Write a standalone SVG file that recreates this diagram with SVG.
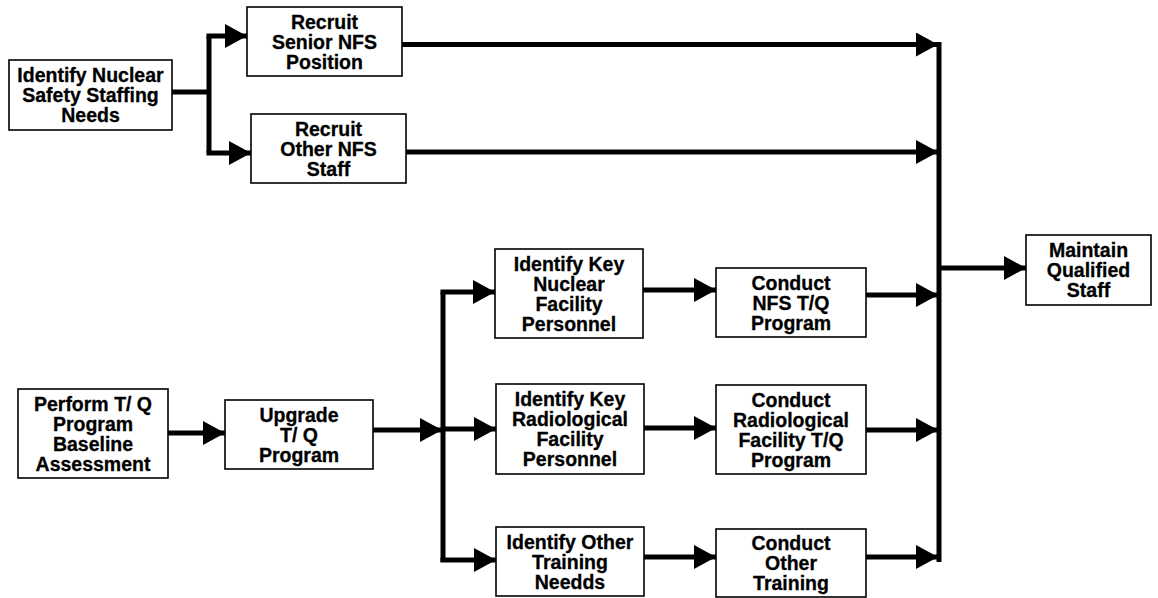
<svg xmlns="http://www.w3.org/2000/svg" width="1158" height="598" viewBox="0 0 1158 598">
<defs>
<marker id="ah" markerUnits="userSpaceOnUse" markerWidth="23" markerHeight="24" refX="22" refY="12" orient="auto" viewBox="0 0 23 24">
<path d="M0,0 L22,12 L0,24 z" fill="#000"/>
</marker>
<style>
.box{fill:#fff;stroke:#000;stroke-width:1.6}
.t{font-family:"Liberation Sans",Arial,Helvetica,sans-serif;font-weight:bold;font-size:19.5px;fill:#000;stroke:#000;stroke-width:0.3;text-anchor:middle}
.c{fill:none;stroke:#000;stroke-width:5;stroke-linejoin:miter;stroke-linecap:butt}
.a{marker-end:url(#ah)}
</style>
</defs>
<rect width="1158" height="598" fill="#fff"/>
<g id="connectors">
<path class="c" d="M172,92 H209"/>
<path class="c" d="M209,36 V153"/>
<path class="c a" d="M206.5,36 H247"/>
<path class="c a" d="M206.5,153 H251"/>
<path class="c" d="M939,42 V562"/>
<path class="c a" d="M402,44.5 H938"/>
<path class="c a" d="M406,152 H938"/>
<path class="c a" d="M939,268 H1026"/>
<path class="c a" d="M168,433 H225"/>
<path class="c a" d="M373,430 H442"/>
<path class="c" d="M443,292 V562"/>
<path class="c a" d="M440.5,292 H495"/>
<path class="c a" d="M443,429 H496"/>
<path class="c a" d="M440.5,560 H496"/>
<path class="c a" d="M643,290 H716"/>
<path class="c a" d="M644,428 H716"/>
<path class="c a" d="M644,557 H716"/>
<path class="c a" d="M866,295 H938"/>
<path class="c a" d="M866,430 H938"/>
<path class="c a" d="M866,557 H938"/>
</g>
<g id="n1"><rect class="box" x="9" y="60" width="163" height="70"/>
<text class="t" x="90.5" y="82">Identify Nuclear</text><text class="t" x="90.5" y="102">Safety Staffing</text><text class="t" x="90.5" y="122">Needs</text></g>
<g id="n2"><rect class="box" x="247" y="7" width="155" height="69"/>
<text class="t" x="324.5" y="28.5">Recruit</text><text class="t" x="324.5" y="48.5">Senior NFS</text><text class="t" x="324.5" y="68.5">Position</text></g>
<g id="n3"><rect class="box" x="251" y="114" width="155" height="69"/>
<text class="t" x="328.5" y="135.5">Recruit</text><text class="t" x="328.5" y="155.5">Other NFS</text><text class="t" x="328.5" y="175.5">Staff</text></g>
<g id="n4"><rect class="box" x="18" y="389" width="150" height="89"/>
<text class="t" x="93" y="410.5">Perform T/ Q</text><text class="t" x="93" y="430.5">Program</text><text class="t" x="93" y="450.5">Baseline</text><text class="t" x="93" y="470.5">Assessment</text></g>
<g id="n5"><rect class="box" x="225" y="400" width="148" height="69"/>
<text class="t" x="299" y="421.5">Upgrade</text><text class="t" x="299" y="441.5">T/ Q</text><text class="t" x="299" y="461.5">Program</text></g>
<g id="n6"><rect class="box" x="495" y="249" width="148" height="89"/>
<text class="t" x="569" y="270.5">Identify Key</text><text class="t" x="569" y="290.5">Nuclear</text><text class="t" x="569" y="310.5">Facility</text><text class="t" x="569" y="330.5">Personnel</text></g>
<g id="n7"><rect class="box" x="496" y="384" width="148" height="90"/>
<text class="t" x="570" y="406">Identify Key</text><text class="t" x="570" y="426">Radiological</text><text class="t" x="570" y="446">Facility</text><text class="t" x="570" y="466">Personnel</text></g>
<g id="n8"><rect class="box" x="496" y="527" width="148" height="69"/>
<text class="t" x="570" y="548.5">Identify Other</text><text class="t" x="570" y="568.5">Training</text><text class="t" x="570" y="588.5">Needds</text></g>
<g id="n9"><rect class="box" x="716" y="268" width="150" height="69"/>
<text class="t" x="791" y="289.5">Conduct</text><text class="t" x="791" y="309.5">NFS T/Q</text><text class="t" x="791" y="329.5">Program</text></g>
<g id="n10"><rect class="box" x="716" y="385" width="150" height="89"/>
<text class="t" x="791" y="406.5">Conduct</text><text class="t" x="791" y="426.5">Radiological</text><text class="t" x="791" y="446.5">Facility T/Q</text><text class="t" x="791" y="466.5">Program</text></g>
<g id="n11"><rect class="box" x="716" y="529" width="150" height="68"/>
<text class="t" x="791" y="550">Conduct</text><text class="t" x="791" y="570">Other</text><text class="t" x="791" y="590">Training</text></g>
<g id="n12"><rect class="box" x="1026" y="235" width="125" height="70"/>
<text class="t" x="1088.5" y="257">Maintain</text><text class="t" x="1088.5" y="277">Qualified</text><text class="t" x="1088.5" y="297">Staff</text></g>
</svg>
